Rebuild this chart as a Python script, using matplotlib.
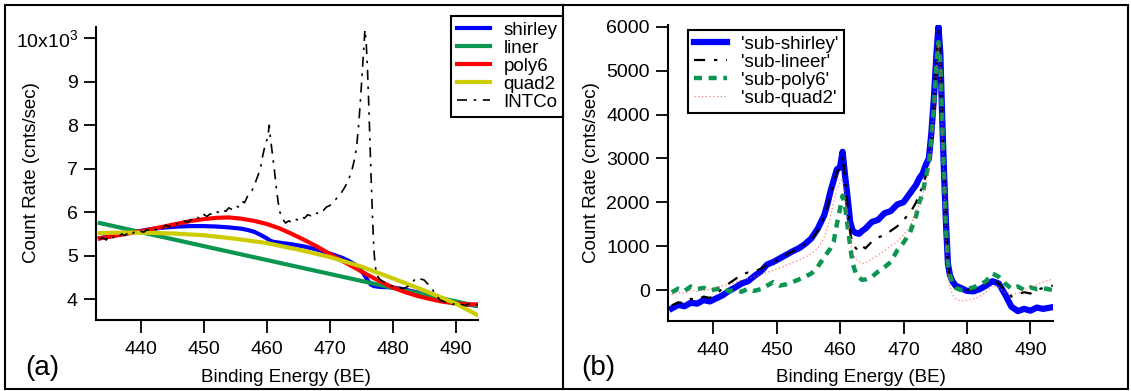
import matplotlib
matplotlib.use("Agg")
import matplotlib.pyplot as plt
from matplotlib.patches import Rectangle
from matplotlib.lines import Line2D

plt.rcParams['font.family'] = ['Liberation Sans', 'DejaVu Sans']
plt.rcParams['mathtext.fontset'] = 'custom'
plt.rcParams['mathtext.rm'] = 'Liberation Sans'
plt.rcParams['mathtext.it'] = 'Liberation Sans'

# ---- panel (a): raw spectrum (x1000 cnts/sec) and backgrounds ----
be_raw = [433.5, 434, 434.5, 435, 435.5, 436, 436.5, 437, 437.5, 438, 438.5, 439, 439.5,
          440, 440.5, 441, 441.5, 442, 442.5, 443, 443.5, 444, 444.5, 445, 445.5, 446,
          446.5, 447, 447.5, 448, 448.5, 449, 449.5, 450, 450.5, 451, 451.5, 452, 452.5,
          453, 453.5, 454, 454.5, 455, 455.5, 456, 456.5, 457, 457.5, 458, 458.5, 459,
          459.3, 459.6, 459.9, 460.2, 460.4, 460.6, 460.9, 461.2, 461.5, 461.8, 462.1,
          462.5, 463, 463.5, 464, 464.5, 465, 465.5, 466, 466.5, 467, 467.5, 468, 468.5,
          469, 469.5, 470, 470.5, 471, 471.5, 472, 472.5, 473, 473.5, 474, 474.3, 474.6,
          474.9, 475.2, 475.4, 475.6, 475.8, 476.0, 476.2, 476.4, 476.6, 476.8, 477.0,
          477.2, 477.5, 478, 478.5, 479, 479.5, 480, 480.5, 481, 481.5, 482, 482.5, 483,
          483.5, 484, 484.5, 485, 485.5, 486, 486.5, 487, 487.5, 488, 488.5, 489, 489.5,
          490, 490.5, 491, 491.5, 492, 492.5, 493, 493.5]
intco = [5.38, 5.42, 5.36, 5.45, 5.40, 5.48, 5.44, 5.50, 5.46, 5.53, 5.48, 5.55, 5.52,
         5.56, 5.54, 5.60, 5.57, 5.63, 5.60, 5.66, 5.64, 5.70, 5.66, 5.73, 5.70, 5.76,
         5.74, 5.80, 5.77, 5.83, 5.80, 5.88, 5.84, 5.95, 5.90, 5.96, 5.94, 6.02, 5.98,
         6.05, 6.02, 6.10, 6.06, 6.15, 6.12, 6.25, 6.22, 6.38, 6.45, 6.60, 6.80, 7.00,
         7.25, 7.45, 7.60, 7.75, 8.00, 7.70, 7.35, 7.00, 6.60, 6.25, 6.00,
         5.85, 5.75, 5.80, 5.76, 5.84, 5.82, 5.90, 5.86, 5.94, 5.92, 6.00, 5.97, 6.06,
         6.04, 6.12, 6.15, 6.22, 6.30, 6.38, 6.48, 6.60, 6.75, 6.95, 7.25, 7.55, 8.00,
         8.60, 9.30, 9.80, 10.20, 9.90, 9.30, 8.50, 7.60, 6.70, 5.90, 5.20,
         4.80, 4.55, 4.45, 4.40, 4.36, 4.32, 4.30, 4.27, 4.28, 4.24, 4.26, 4.30, 4.36,
         4.45, 4.50, 4.46, 4.44, 4.36, 4.30, 4.18, 4.08, 3.98, 3.95, 3.92, 3.90, 3.88,
         3.90, 3.86, 3.88, 3.85, 3.89, 3.86, 3.88, 3.87]

be_shirley = [433.5, 436, 438, 440, 442, 444, 446, 448, 450, 452, 454, 456, 457, 458, 459,
              460, 460.5, 461, 462, 464, 466, 468, 470, 472, 473, 474, 475, 475.5, 476,
              476.5, 477, 478, 480, 482, 484, 486, 488, 490, 492, 493.5]
shirley = [5.40, 5.47, 5.52, 5.57, 5.62, 5.65, 5.67, 5.68, 5.68, 5.67, 5.65, 5.62, 5.59,
           5.55, 5.48, 5.40, 5.35, 5.32, 5.30, 5.26, 5.21, 5.14, 5.05, 4.95, 4.88, 4.80,
           4.66, 4.56, 4.44, 4.34, 4.30, 4.28, 4.27, 4.22, 4.15, 4.05, 3.97, 3.91, 3.87, 3.85]

be_liner = [433.5, 450, 460, 470, 480, 493.5]
liner = [5.75, 5.22, 4.90, 4.58, 4.26, 3.84]

be_poly6 = [433.5, 436, 438, 440, 442, 444, 446, 448, 450, 452, 454, 456, 458, 460, 462,
            464, 466, 468, 470, 472, 474, 476, 478, 480, 482, 484, 486, 488, 490, 492, 493.5]
poly6 = [5.40, 5.46, 5.51, 5.56, 5.62, 5.68, 5.74, 5.80, 5.84, 5.87, 5.88, 5.85, 5.80,
         5.73, 5.63, 5.50, 5.36, 5.21, 5.04, 4.88, 4.72, 4.56, 4.41, 4.27, 4.16, 4.07,
         4.00, 3.94, 3.90, 3.88, 3.88]

be_quad2 = [433.5, 437, 440, 445, 450, 455, 460, 465, 470, 475, 480, 485, 490, 493.5]
quad2 = [5.52, 5.53, 5.53, 5.51, 5.47, 5.39, 5.29, 5.14, 4.97, 4.75, 4.48, 4.20, 3.90, 3.63]

# ---- panel (b): background-subtracted spectra (cnts/sec) ----
be_sub = [433.5, 434.5, 435.5, 436.5, 437.5, 438.5, 439.5, 440.5, 441.5, 442.5, 443.5,
          444.5, 445.5, 446.5, 447.5, 448.5, 449.5, 450.5, 451.5, 452.5, 453.5, 454.5,
          455.5, 456.5, 457.5, 458, 458.5, 459, 459.5, 460, 460.4, 460.8, 461.2, 461.6,
          462, 462.5, 463, 463.5, 464, 465, 466, 467, 468, 469, 470, 471, 472, 472.5,
          473, 473.5, 474, 474.4, 474.8, 475.2, 475.5, 475.8, 476.1, 476.4, 476.7, 477,
          477.3, 477.7, 478.2, 479, 480, 481, 482, 483, 484, 485, 486, 487, 488, 489,
          490, 491, 492, 493.5]
sub_shirley = [-420, -340, -370, -290, -310, -230, -260, -190, -120, -20, 60, 150, 200,
               320, 420, 580, 640, 720, 800, 880, 950, 1050, 1180, 1400, 1700, 1950, 2250,
               2500, 2750, 2800, 3150, 2600, 2100, 1550, 1350, 1300, 1280, 1350, 1400,
               1550, 1600, 1750, 1800, 1950, 2000, 2200, 2400, 2550, 2650, 2850, 3000,
               3600, 4400, 5400, 6000, 5400, 3900, 2600, 1500, 600, 350, 200, 100, 50,
               -20, -30, 20, 100, 200, 150, -100, -380, -480, -430, -470, -400, -430, -390]
sub_lineer = [-350, -280, -300, -200, -230, -150, -180, -80, 30, 150, 250, 350, 400, 430,
              480, 580, 640, 700, 800, 880, 950, 1050, 1150, 1350, 1650, 1900, 2200, 2450,
              2700, 2750, 3050, 2500, 1900, 1300, 1050, 950, 900, 1000, 950, 1100, 1200,
              1250, 1350, 1450, 1600, 1750, 2000, 2200, 2350, 2600, 2850, 3400, 4200, 5300,
              5900, 5300, 3800, 2500, 1400, 550, 300, 150, 80, 20, 0, 20, 80, 150, 250, 150,
              0, -150, -100, -50, -80, 0, 50, 100]
sub_poly6 = [-50, 30, -20, 80, 20, 50, -10, 20, 60, -30, 10, -40, 30, -20, 20, 100, 180,
             100, 130, 180, 240, 300, 380, 530, 750, 850, 950, 1100, 1500, 1850, 2150, 1900,
             1450, 1000, 600, 380, 280, 230, 240, 300, 420, 520, 640, 900, 1080, 1300, 1700,
             2000, 2200, 2550, 2900, 3500, 4200, 5200, 5650, 5200, 3800, 2500, 1400, 600,
             350, 150, 50, 0, 20, 60, 120, 200, 380, 300, 150, 30, 80, 0, 60, 20, 40, 0]
sub_quad2 = [-100, -50, -80, 0, -30, 20, 0, 50, 100, 120, 180, 220, 260, 300, 350, 400,
             450, 500, 560, 620, 680, 750, 830, 950, 1200, 1400, 1700, 2000, 2300, 2450,
             2550, 2200, 1600, 1100, 800, 700, 650, 600, 620, 700, 800, 900, 1000, 1100,
             1250, 1450, 1750, 1950, 2150, 2450, 2700, 3300, 4100, 5100, 5600, 5100, 3700,
             2400, 1200, 400, 100, -100, -200, -250, -230, -200, -150, -50, 100, 50, -50,
             -100, -80, 0, 60, 120, 180, 250]

W, H = 1131, 391
fig = plt.figure(figsize=(W / 100, H / 100), dpi=100)

FS = 14
LFS = 13.5
blue = '#0000ff'
green = '#0a9650'
red = '#ff0000'
yellow = '#cccc00'


def style_axes(ax):
    for s in ['top', 'right']:
        ax.spines[s].set_visible(False)
    for s in ['left', 'bottom']:
        ax.spines[s].set_linewidth(1.5)
    ax.tick_params(direction='out', length=9, width=1.3, labelsize=FS)
    ax.tick_params(axis='x', pad=6)
    ax.tick_params(axis='y', pad=4)
    ax.set_xlim(432.9, 493.55)
    ax.set_xticks([440, 450, 460, 470, 480, 490])


# panel (a)
ax1 = fig.add_axes([96 / W, 1 - 320 / H, 382 / W, 293 / H])
style_axes(ax1)
ax1.plot(be_shirley, shirley, color=blue, lw=3, label='shirley')
ax1.plot(be_liner, liner, color=green, lw=3, label='liner')
ax1.plot(be_poly6, poly6, color=red, lw=3, label='poly6')
ax1.plot(be_quad2, quad2, color=yellow, lw=3, label='quad2')
ax1.plot(be_raw, intco, color='black', lw=1.2, ls=(0, (6, 4, 1.5, 4)), label='INTCo')
ax1.set_ylim(3.52, 10.26)
ax1.set_yticks([4, 5, 6, 7, 8, 9, 10])
ax1.set_yticklabels(['4', '5', '6', '7', '8', '9', '10x10$^{3}$'])
leg1 = ax1.legend(loc='upper right', bbox_to_anchor=(563 / W, 1 - 16 / H),
                  bbox_transform=fig.transFigure, fontsize=LFS, frameon=True,
                  fancybox=False, framealpha=1, edgecolor='black', borderpad=0.3,
                  labelspacing=0.05, handlelength=1.8, handletextpad=0.7,
                  borderaxespad=0)
leg1.get_frame().set_linewidth(1.5)

# panel (b)
ax2 = fig.add_axes([668 / W, 1 - 321 / H, 385 / W, 296 / H])
style_axes(ax2)
ax2.plot(be_sub, sub_shirley, color=blue, lw=4.5, label="'sub-shirley'")
ax2.plot(be_sub, sub_lineer, color='black', lw=1.6, ls=(0, (5, 4, 1.5, 4)),
         label="'sub-lineer'")
ax2.plot(be_sub, sub_poly6, color=green, lw=3.2, ls=(0, (1.8, 1.5)), label="'sub-poly6'")
ax2.plot(be_sub, sub_quad2, color='#ff5a5a', lw=0.9, ls=(0, (1, 2)), alpha=0.8,
         label="'sub-quad2'")
ax2.set_ylim(-706, 6040)
ax2.set_yticks([0, 1000, 2000, 3000, 4000, 5000, 6000])
leg2 = ax2.legend(loc='upper left', bbox_to_anchor=(688 / W, 1 - 30 / H),
                  bbox_transform=fig.transFigure, fontsize=LFS, frameon=True,
                  fancybox=False, framealpha=1, edgecolor='black', borderpad=0.3,
                  labelspacing=0.05, handlelength=1.8, handletextpad=0.7,
                  borderaxespad=0)
leg2.get_frame().set_linewidth(1.5)

# axis labels and panel tags
for xc, yc in [(32, 173), (592, 173)]:
    fig.text(xc / W, 1 - yc / H, 'Count Rate (cnts/sec)', rotation=90,
             ha='center', va='center', fontsize=LFS)
for xc in [286, 861]:
    fig.text(xc / W, 1 - 377 / H, 'Binding Energy (BE)', ha='center', va='center',
             fontsize=LFS)
fig.text(42 / W, 1 - 368 / H, '(a)', ha='center', va='center', fontsize=20)
fig.text(598 / W, 1 - 368 / H, '(b)', ha='center', va='center', fontsize=20)

# outer frame and divider
fig.add_artist(Rectangle((5 / W, 2 / H), 1123 / W, 384 / H, transform=fig.transFigure,
                         fill=False, edgecolor='black', lw=1.5))
fig.add_artist(Line2D([563 / W, 563 / W], [2 / H, 386 / H], transform=fig.transFigure,
                      color='black', lw=1.5, zorder=0))

fig.savefig('out.png', dpi=100)
